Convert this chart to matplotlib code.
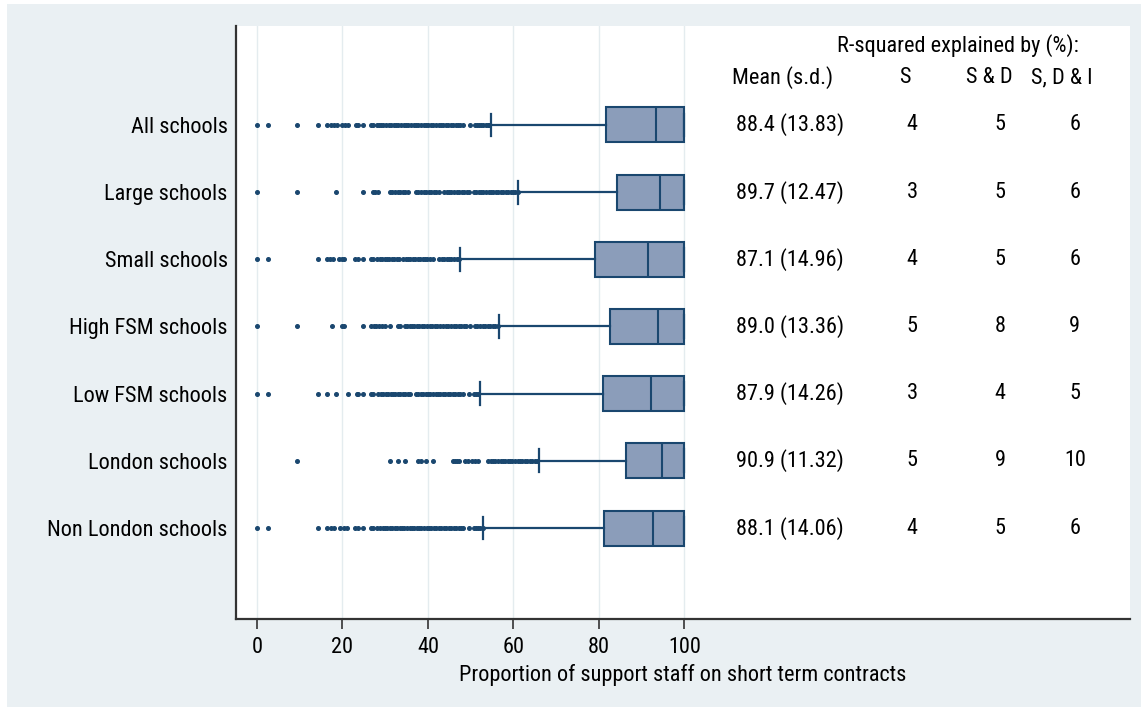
import matplotlib
matplotlib.use("Agg")
import matplotlib.pyplot as plt
from matplotlib.patches import Rectangle

plt.rcParams['font.family'] = ['Roboto Condensed', 'Archivo Narrow', 'DejaVu Sans']

# ---- data -------------------------------------------------------------
groups = ["All schools", "Large schools", "Small schools", "High FSM schools",
          "Low FSM schools", "London schools", "Non London schools"]

q1 = [81.7, 84.3, 79.1, 82.6, 81.0, 86.4, 81.2]
median = [93.3, 94.3, 91.5, 93.8, 92.2, 94.8, 92.7]
q3 = [100, 100, 100, 100, 100, 100, 100]
whisker_lo = [54.7, 61.2, 47.5, 56.7, 52.3, 66.1, 53.0]
whisker_hi = [100, 100, 100, 100, 100, 100, 100]

out_all = [0, 2.6, 9.4, 14.2, 16.5, 17.3, 18.1, 18.8, 19.9, 20.5, 21.3, 23.2, 23.7,
           24.9, 26.6, 27.1, 28.0, 28.5, 29.1, 29.6, 30.2, 30.9, 31.4, 32.0, 32.6,
           33.1, 33.7, 34.3, 34.9, 35.4, 36.0, 36.7, 37.2, 37.8, 38.5, 39.0, 39.6,
           40.1, 40.8, 41.3, 41.9, 42.5, 43.0, 43.6, 44.2, 44.8, 45.3, 45.9, 46.5,
           47.0, 47.6, 48.2, 49.8, 51.0, 51.5, 52.0, 52.5, 53.0, 53.5, 54.0, 54.4]
out_large = [0, 9.4, 18.6, 24.9, 27.1, 27.6, 28.4, 31.1, 31.7, 32.3, 32.9, 33.5, 34.1,
             34.7, 35.3, 37.2, 37.8, 38.4, 39.0, 39.6, 40.2, 40.8, 41.4, 42.0, 42.7,
             43.8, 44.4, 45.0, 45.5, 46.1, 46.7, 47.3, 47.9, 48.5, 49.1, 49.7, 50.8,
             51.3, 51.9, 52.5, 53.0, 53.6, 54.2, 54.8, 55.3, 55.9, 56.5, 57.1, 57.6,
             58.2, 58.8, 59.4, 59.9, 60.5, 61.0]
out_small = [0, 2.6, 14.2, 16.3, 17.1, 17.9, 19.1, 19.8, 20.4, 23.0, 23.7, 24.9, 26.7,
             27.2, 28.2, 28.7, 29.3, 29.9, 30.4, 31.0, 31.6, 32.1, 32.7, 33.3, 34.2,
             34.8, 35.4, 35.9, 36.5, 37.1, 37.6, 38.2, 38.8, 39.3, 39.9, 40.5, 41.3,
             42.7, 43.3, 43.8, 44.4, 45.0, 45.5, 46.1, 46.7, 47.2]
out_highfsm = [0, 9.4, 17.6, 19.8, 20.4, 24.9, 26.7, 27.3, 27.9, 28.6, 29.2, 30.0, 31.1,
               33.1, 33.5, 34.6, 35.2, 35.8, 36.2, 36.8, 37.4, 38.0, 38.6, 39.2, 39.8,
               40.4, 41.0, 41.6, 42.2, 42.8, 43.6, 44.2, 44.8, 45.4, 46.0, 46.6, 47.2,
               47.8, 48.4, 49.0, 49.8, 51.0, 51.6, 52.2, 52.8, 53.4, 54.0, 54.6, 55.2,
               55.8, 56.4]
out_lowfsm = [0, 2.6, 14.2, 16.5, 18.6, 21.3, 23.3, 23.7, 24.9, 26.7, 27.2, 28.4, 29.0,
              29.6, 30.1, 30.7, 31.3, 31.9, 32.4, 33.0, 33.5, 34.2, 34.7, 35.3, 35.8,
              37.2, 37.8, 38.3, 38.9, 39.5, 40.1, 40.6, 41.2, 41.8, 42.4, 42.9, 43.5,
              44.1, 44.7, 45.2, 45.8, 46.4, 47.0, 47.6, 48.2, 49.7, 50.8, 51.3, 51.8]
out_london = [9.4, 31.1, 33.1, 34.6, 37.8, 38.5, 39.5, 41.1, 45.8, 46.3, 46.8, 47.3,
              48.7, 49.5, 50.3, 51.0, 51.8, 54.1, 54.7, 55.3, 55.8, 56.4, 57.0, 57.5,
              58.1, 58.7, 59.3, 59.8, 60.4, 61.0, 61.6, 62.1, 62.7, 63.3, 63.9, 64.4,
              65.0, 65.6]
out_nonlondon = [0, 2.6, 14.2, 16.5, 17.3, 18.1, 19.5, 20.3, 21.1, 23.0, 23.7, 24.9,
                 26.7, 27.2, 28.2, 28.8, 29.4, 29.9, 30.5, 31.1, 31.6, 32.2, 32.8, 33.4,
                 33.9, 34.5, 35.1, 35.7, 36.2, 36.8, 37.4, 38.0, 38.5, 39.1, 39.7, 40.3,
                 40.8, 41.4, 42.0, 42.6, 43.1, 43.7, 44.3, 44.9, 45.4, 46.0, 46.6, 47.2,
                 47.7, 48.3, 49.7, 50.8, 51.3, 51.8, 52.3, 52.8]
outliers = [out_all, out_large, out_small, out_highfsm, out_lowfsm, out_london, out_nonlondon]

mean_sd = ["88.4 (13.83)", "89.7 (12.47)", "87.1 (14.96)", "89.0 (13.36)",
           "87.9 (14.26)", "90.9 (11.32)", "88.1 (14.06)"]
r2_s = [4, 3, 4, 5, 3, 5, 4]
r2_sd = [5, 5, 5, 8, 4, 9, 5]
r2_sdi = [6, 6, 6, 9, 5, 10, 6]

x_ticks = [0, 20, 40, 60, 80, 100]
x_label = "Proportion of support staff on short term contracts"

# ---- figure -----------------------------------------------------------
W, H = 1141, 707
fig = plt.figure(figsize=(W / 100, H / 100), dpi=100, facecolor="white")
fig.patches.append(Rectangle((7 / W, 0), 1 - 7 / W, 1 - 4 / H, transform=fig.transFigure,
                             facecolor="#eaf0f3", edgecolor="none", zorder=-10))

ax = fig.add_axes([236 / W, 1 - 619 / H, (1130 - 236) / W, (619 - 26) / H])
ax.set_facecolor("white")

navy = "#1a476f"
stats = []
for i in range(len(groups)):
    stats.append(dict(med=median[i], q1=q1[i], q3=q3[i], whislo=whisker_lo[i],
                      whishi=whisker_hi[i], fliers=outliers[i], label=groups[i]))

pos = list(range(len(groups)))
ax.bxp(stats, positions=pos, orientation="horizontal", widths=0.52, capwidths=0.34,
       patch_artist=True, showfliers=True,
       boxprops=dict(facecolor="#8b9dba", edgecolor=navy, linewidth=1.5),
       medianprops=dict(color=navy, linewidth=1.5),
       whiskerprops=dict(color=navy, linewidth=1.6),
       capprops=dict(color=navy, linewidth=1.6),
       flierprops=dict(marker="o", markersize=2.6, markerfacecolor=navy,
                       markeredgecolor=navy, linestyle="none"))

ax.set_xlim(-4.9, 204.3)
ax.set_ylim(6 + 1.354, -1.473)

fs = 16
ax.set_xticks(x_ticks)
ax.set_xticklabels([str(t) for t in x_ticks], fontsize=fs)
ax.tick_params(axis="x", length=7, width=1.2, color="#333333", pad=6)
ax.set_yticks(pos)
ax.set_yticklabels(groups, fontsize=fs)
ax.tick_params(axis="y", length=0, pad=6)
ax.grid(axis="x", color="#e4ecef", linewidth=1.0)
ax.set_axisbelow(True)

for side in ("top", "right"):
    ax.spines[side].set_visible(False)
for side in ("left", "bottom"):
    ax.spines[side].set_color("#333333")
    ax.spines[side].set_linewidth(1.6)

ax.set_xlabel(x_label, fontsize=fs, labelpad=4)

# ---- table of statistics to the right ----------------------------------
col_mean, col_s, col_sd, col_sdi = 124.7, 153.3, 173.9, 191.4
ax.text(164.0, -1.176, "R-squared explained by (%):", ha="center", va="center", fontsize=fs)
ax.text(123.1, -0.70, "Mean (s.d.)", ha="center", va="center", fontsize=fs)
ax.text(151.6, -0.70, "S", ha="center", va="center", fontsize=fs)
ax.text(171.3, -0.70, "S & D", ha="center", va="center", fontsize=fs)
ax.text(188.4, -0.70, "S, D & I", ha="center", va="center", fontsize=fs)
for i in range(len(groups)):
    ax.text(col_mean, i, mean_sd[i], ha="center", va="center", fontsize=fs)
    ax.text(col_s, i, str(r2_s[i]), ha="center", va="center", fontsize=fs)
    ax.text(col_sd, i, str(r2_sd[i]), ha="center", va="center", fontsize=fs)
    ax.text(col_sdi, i, str(r2_sdi[i]), ha="center", va="center", fontsize=fs)

fig.savefig("out.png", dpi=100, facecolor=fig.get_facecolor())
